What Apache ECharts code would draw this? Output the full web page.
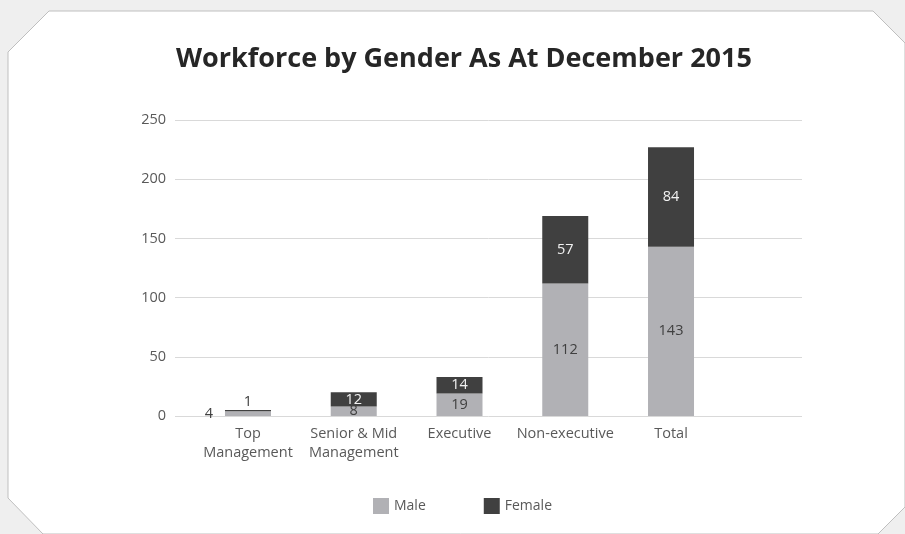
<!DOCTYPE html>
<html>
<head>
<meta charset="utf-8">
<script src="https://cdn.jsdelivr.net/npm/echarts@6/dist/echarts.min.js"></script>
<style>
  html, body { margin: 0; padding: 0; background: #efefef; }
  #chart { width: 905px; height: 534px; }
</style>
</head>
<body>
<div id="chart"></div>
<script>
// 数据
const categories = ['Top\nManagement', 'Senior & Mid\nManagement', 'Executive', 'Non-executive', 'Total']
const maleValues = [4, 8, 19, 112, 143]
const femaleValues = [1, 12, 14, 57, 84]
const yTicks = [0, 50, 100, 150, 200, 250]

const maleColor = '#b1b1b5'
const femaleColor = '#404040'
const textColor = '#595959'
const fontFamily = '"Open Sans", "Noto Sans", sans-serif'

const chart = echarts.init(document.getElementById('chart'))

// 小柱子的标签放到外面
const maleData = maleValues.map((v, i) => i === 0
  ? { value: v, label: { position: 'left', distance: 12 } }
  : v)
const femaleData = femaleValues.map((v, i) => i === 0
  ? { value: v, label: { position: 'top', distance: 1, color: '#404040' } }
  : v)

chart.setOption({
  backgroundColor: '#efefef',
  textStyle: { fontFamily },
  graphic: [{
    type: 'polygon',
    z: -10,
    shape: {
      points: [[49, 11], [873, 11], [905, 43], [905, 507], [878, 534], [43, 534], [8, 498], [8, 52]]
    },
    style: { fill: '#ffffff', stroke: '#bfbfbf', lineWidth: 1 }
  }],
  title: {
    text: 'Workforce by Gender As At December 2015',
    left: 171,
    top: 41,
    textStyle: { fontSize: 27, fontWeight: 'bold', color: '#262626', fontFamily }
  },
  legend: {
    data: ['Male', 'Female'],
    left: 368,
    top: 493,
    icon: 'rect',
    itemWidth: 16,
    itemHeight: 16,
    itemGap: 58,
    textStyle: { fontSize: 14, color: textColor, fontFamily }
  },
  grid: [
    { left: 175, right: 103, top: 120, bottom: 118 },
    { left: 195.1, right: 181.1, top: 120, bottom: 118 }
  ],
  xAxis: [
    { type: 'category', gridIndex: 0, data: categories, show: false },
    {
      type: 'category',
      gridIndex: 1,
      data: categories,
      axisLine: { show: false },
      axisTick: { show: false },
      axisLabel: { interval: 0, fontSize: 14.5, color: textColor, lineHeight: 19, margin: 8, fontFamily }
    }
  ],
  yAxis: [
    {
      type: 'value',
      gridIndex: 0,
      min: yTicks[0],
      max: yTicks[yTicks.length - 1],
      interval: 50,
      axisLine: { show: false },
      axisTick: { show: false },
      axisLabel: { fontSize: 14.5, color: textColor, margin: 9, fontFamily },
      splitLine: { lineStyle: { color: '#d9d9d9', width: 1 } }
    },
    {
      type: 'value',
      gridIndex: 1,
      min: yTicks[0],
      max: yTicks[yTicks.length - 1],
      interval: 50,
      show: false,
      splitLine: { show: false }
    }
  ],
  series: [
    {
      name: 'Male',
      type: 'bar',
      stack: 'total',
      xAxisIndex: 1,
      yAxisIndex: 1,
      barWidth: '43.5%',
      data: maleData,
      itemStyle: { color: maleColor },
      label: { show: true, position: 'inside', fontSize: 14.5, color: '#404040', fontFamily }
    },
    {
      name: 'Female',
      type: 'bar',
      stack: 'total',
      xAxisIndex: 1,
      yAxisIndex: 1,
      barWidth: '43.5%',
      data: femaleData,
      itemStyle: { color: femaleColor },
      label: { show: true, position: 'inside', fontSize: 14.5, color: '#f2f2f2', fontFamily }
    }
  ]
})
</script>
</body>
</html>
